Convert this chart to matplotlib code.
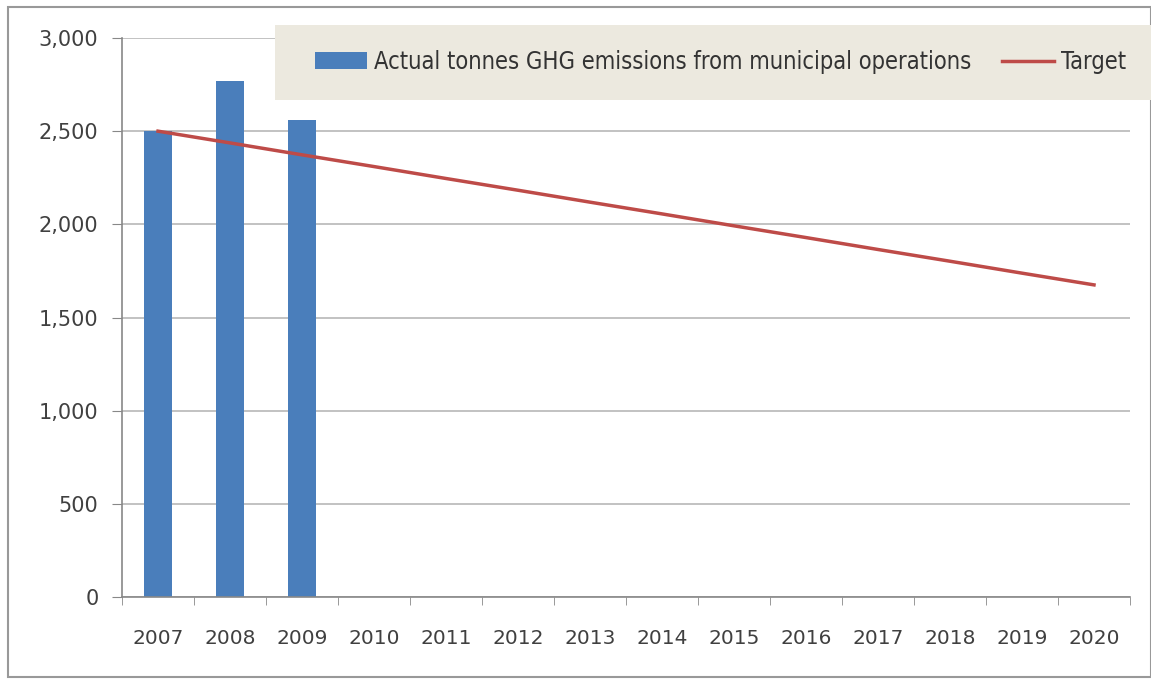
import matplotlib
matplotlib.use("Agg")
import matplotlib.pyplot as plt
from matplotlib.patches import Rectangle
from matplotlib.font_manager import FontProperties
import numpy as np

years = ["2007", "2008", "2009", "2010", "2011", "2012", "2013",
         "2014", "2015", "2016", "2017", "2018", "2019", "2020"]
actual = [2500, 2770, 2560]
target = [2500, 2437, 2373, 2310, 2246, 2183, 2119,
          2056, 1992, 1929, 1865, 1802, 1738, 1675]

fig = plt.figure(figsize=(11.51, 6.79), dpi=100)
ax = fig.add_axes([122 / 1151, 1 - 597 / 679, (1130 - 122) / 1151, (597 - 38) / 679])

x = np.arange(len(years))
bars = ax.bar(x[:len(actual)], actual, width=0.39, color="#4a7ebb", zorder=2,
              label="Actual tonnes GHG emissions from municipal operations")
line, = ax.plot(x, target, color="#be4b48", lw=2.5, zorder=3, label="Target")

ax.set_xlim(-0.5, len(years) - 0.5)
ax.set_ylim(0, 3000)
ax.set_yticks(range(0, 3001, 500))
ax.set_yticklabels([f"{v:,}" for v in range(0, 3001, 500)])
ax.grid(axis="y", color="#b8b8b8", lw=1.2, zorder=0)

ax.set_xticks(x)
ax.set_xticklabels(years)
ax.set_xticks(np.arange(-0.5, len(years)), minor=True)
ax.tick_params(axis="x", which="major", length=0, pad=23, labelsize=14.5, colors="#404040")
ax.tick_params(axis="x", which="minor", length=6, color="#888888", direction="out")
ax.tick_params(axis="y", length=7, color="#888888", labelsize=15, colors="#404040", pad=10)
for side in ["top", "right"]:
    ax.spines[side].set_visible(False)
for side in ["left", "bottom"]:
    ax.spines[side].set_color("#888888")
    ax.spines[side].set_linewidth(1.2)

# legend band across the top right
fig.patches.append(Rectangle((275 / 1151, 1 - 100 / 679), (1151 - 275) / 1151, 75 / 679,
                             transform=fig.transFigure, facecolor="#ece9df",
                             edgecolor="none", zorder=4))
leg_font = FontProperties(family="DejaVu Sans", stretch="condensed", size=17)
leg = fig.legend([bars, line], [bars.get_label(), line.get_label()],
                 loc="center", bbox_to_anchor=(0.626, 1 - 62 / 679), ncol=2,
                 frameon=False, prop=leg_font, handlelength=2.2, handletextpad=0.3,
                 columnspacing=1.3, labelcolor="#333333")
leg.set_zorder(5)

# outer frame
fig.patches.append(Rectangle((8 / 1151, 2 / 679), 1 - 8 / 1151, 1 - 9 / 679,
                             transform=fig.transFigure, facecolor="none",
                             edgecolor="#999999", lw=1.5, zorder=0))

fig.savefig("out.png", dpi=100)
